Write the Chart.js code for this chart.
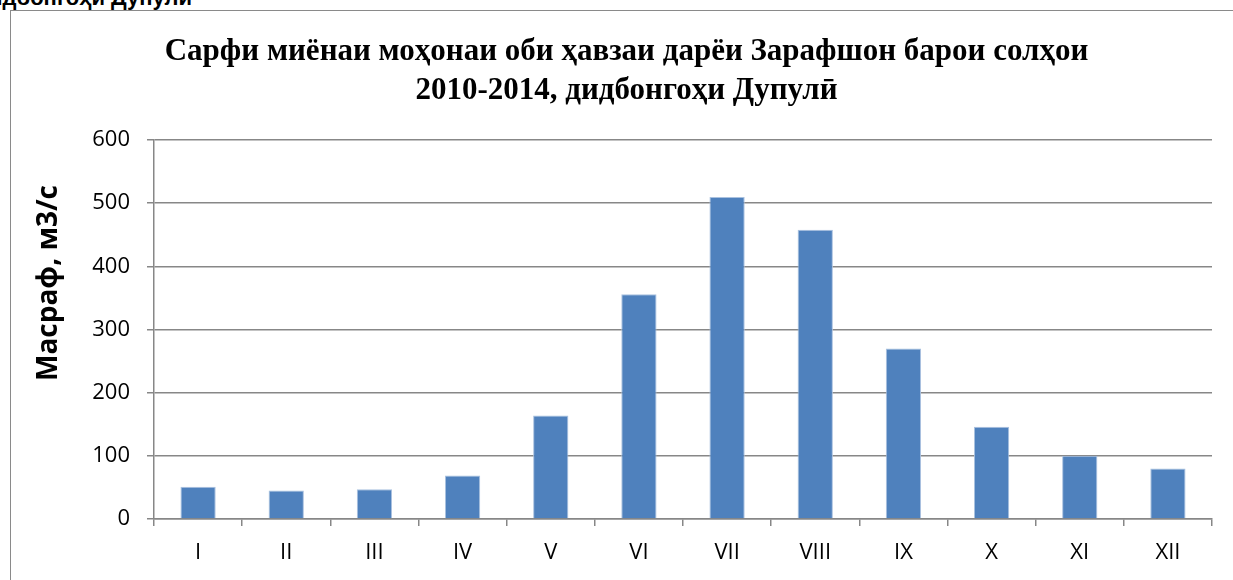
<!DOCTYPE html>
<html>
<head>
<meta charset="utf-8">
<script src="https://cdn.jsdelivr.net/npm/chart.js@4/dist/chart.umd.min.js"></script>
<style>
  html, body { margin: 0; padding: 0; background: #fff; overflow: hidden; }
  body { width: 1233px; height: 580px; position: relative; }
  #frame { position: absolute; left: 10px; top: 10px; width: 1400px; height: 800px;
           border: 1.5px solid #8a8a8a; box-sizing: border-box; }
  #caption { position: absolute; right: 1041px; top: -13px; white-space: nowrap;
             font: bold 22px "Liberation Sans", Arial, sans-serif; color: #000; line-height: 22px; }
  #wrap { position: absolute; left: 0; top: 0; width: 1233px; height: 580px; }
</style>
</head>
<body>
<div id="caption">дидбонгоҳи Дупулӣ</div>
<div id="frame"></div>
<div id="wrap"><canvas id="c" width="1233" height="580"></canvas></div>
<script>
// Monthly mean discharge, Zarafshon basin, Dupuli gauge (2010-2014)
const months = ['I', 'II', 'III', 'IV', 'V', 'VI', 'VII', 'VIII', 'IX', 'X', 'XI', 'XII'];
const discharge = [51, 45, 47, 69, 164, 356, 510, 458, 270, 146, 100, 80];
const yTicks = [0, 100, 200, 300, 400, 500, 600];
const titleLines = ['Сарфи миёнаи моҳонаи оби ҳавзаи дарёи Зарафшон барои солҳои',
                    '2010-2014, дидбонгоҳи Дупулӣ'];
const yTitle = 'Масраф, м3/с';

const axisGray = '#878787';
const tickFont = { family: '"Open Sans", "Liberation Sans", sans-serif', size: 22 };

// Rotated y-axis caption drawn at a fixed spot left of the ticks
const yCaption = {
  id: 'yCaption',
  afterDraw(chart) {
    const ctx = chart.ctx;
    ctx.save();
    ctx.translate(49, 283);
    ctx.rotate(-Math.PI / 2);
    ctx.font = 'bold 28px "Open Sans", "Liberation Sans", sans-serif';
    ctx.fillStyle = '#000';
    ctx.textAlign = 'center';
    ctx.textBaseline = 'middle';
    ctx.fillText(yTitle, 0, 0);
    ctx.restore();
  }
};

new Chart(document.getElementById('c'), {
  type: 'bar',
  data: {
    labels: months,
    datasets: [{
      data: discharge,
      backgroundColor: '#4f81bd',
      borderColor: '#a9c1df',
      borderWidth: 1,
      barPercentage: 0.4,
      categoryPercentage: 1.0
    }]
  },
  options: {
    responsive: false,
    animation: false,
    events: [],
    layout: { padding: { left: 41, right: 21, top: 0, bottom: 0 } },
    plugins: {
      legend: { display: false },
      tooltip: { enabled: false },
      title: {
        display: true,
        text: titleLines,
        color: '#000',
        font: { family: '"Liberation Serif", "Times New Roman", serif', size: 31, weight: 'bold', lineHeight: 1.27 },
        padding: { top: 32, bottom: 29.3 }
      }
    },
    scales: {
      x: {
        grid: { display: true, drawOnChartArea: false, offset: true, color: axisGray, lineWidth: 1.5, tickLength: 7 },
        border: { display: true, color: axisGray, width: 1.5 },
        ticks: { color: '#000', font: tickFont, padding: 14, maxRotation: 0 },
        afterFit(scale) { scale.height = 61; }
      },
      y: {
        min: 0, max: 600,
        afterBuildTicks(scale) { scale.ticks = yTicks.map(v => ({ value: v })); },
        grid: { color: axisGray, lineWidth: 1.5, tickLength: 7 },
        border: { display: true, color: axisGray, width: 1.5 },
        ticks: { color: '#000', font: tickFont, padding: 17 },
        afterFit(scale) { scale.width = 113; }
      }
    }
  },
  plugins: [yCaption]
});
</script>
</body>
</html>
